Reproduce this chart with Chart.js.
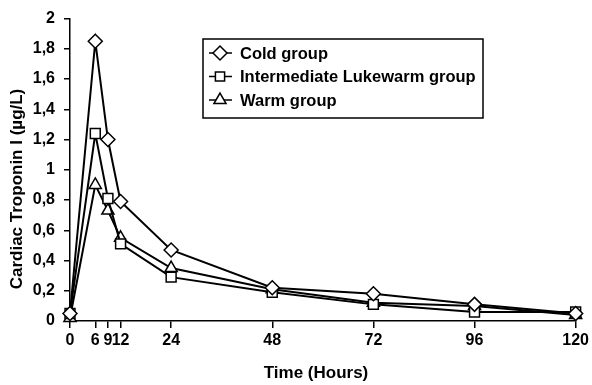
<!DOCTYPE html>
<html>
<head>
<meta charset="utf-8">
<script src="https://cdn.jsdelivr.net/npm/chart.js@4.4.1/dist/chart.umd.min.js"></script>
<style>
    body { margin: 0; background: #fff; }
    #wrap { width: 592px; height: 385px; }
</style>
</head>
<body>
<div id="wrap"><canvas id="chart"></canvas></div>
<script>
// Veriler
const hours = [0, 6, 9, 12, 24, 48, 72, 96, 120];
const xTicks = [0, 6, 9, 12, 24, 48, 72, 96, 120];
const coldGroup = [0.05, 1.85, 1.20, 0.79, 0.47, 0.22, 0.18, 0.11, 0.05];
const lukewarmGroup = [0.05, 1.24, 0.81, 0.51, 0.29, 0.19, 0.11, 0.06, 0.06];
const warmGroup = [0.02, 0.90, 0.73, 0.55, 0.35, 0.21, 0.12, 0.10, 0.04];
const seriesNames = ['Cold group', 'Intermediate Lukewarm group', 'Warm group'];
const xTitle = 'Time (Hours)';
const yTitle = 'Cardiac Troponin I (µg/L)';

const FONT = '"Liberation Sans", Arial, sans-serif';

function toPoints(values) {
    return hours.map((h, i) => ({ x: h, y: values[i] }));
}

function makeDataset(label, values, style, radius, order) {
    return {
        label: label,
        data: toPoints(values),
        borderColor: '#000',
        borderWidth: 2,
        pointStyle: style,
        pointRadius: radius,
        pointBackgroundColor: '#fff',
        pointBorderColor: '#000',
        pointBorderWidth: 1.5,
        tension: 0,
        clip: false,
        order: order
    };
}

// Eksen başlıkları
const axisTitles = {
    id: 'axisTitles',
    afterDraw(chart) {
        const ctx = chart.ctx;
        ctx.save();
        ctx.fillStyle = '#000';
        ctx.textAlign = 'center';
        ctx.textBaseline = 'middle';
        ctx.font = 'bold 17px ' + FONT;
        ctx.fillText(xTitle, 316, 373);
        ctx.translate(17, 189);
        ctx.rotate(-Math.PI / 2);
        ctx.fillText(yTitle, 0, 0);
        ctx.restore();
    }
};

// Çerçeveli lejant
const boxedLegend = {
    id: 'boxedLegend',
    afterDatasetsDraw(chart) {
        const ctx = chart.ctx;
        const x0 = 203, y0 = 39, w = 280, h = 79;
        ctx.save();
        ctx.fillStyle = '#fff';
        ctx.fillRect(x0, y0, w, h);
        ctx.strokeStyle = '#000';
        ctx.lineWidth = 1.5;
        ctx.strokeRect(x0, y0, w, h);
        ctx.font = 'bold 16.5px ' + FONT;
        ctx.textBaseline = 'middle';
        chart.data.datasets.forEach((ds, i) => {
            const cy = y0 + 14 + i * 23.5;
            ctx.strokeStyle = '#000';
            ctx.lineWidth = 1.5;
            ctx.beginPath();
            ctx.moveTo(x0 + 6, cy);
            ctx.lineTo(x0 + 29, cy);
            ctx.stroke();
            ctx.fillStyle = '#fff';
            ctx.strokeStyle = '#000';
            Chart.helpers.drawPoint(ctx, {
                pointStyle: ds.pointStyle,
                radius: ds.pointStyle === 'rect' ? 6.5 : 7,
                rotation: 0,
                borderWidth: 1.5
            }, x0 + 17, cy);
            ctx.fillStyle = '#000';
            ctx.fillText(ds.label, x0 + 37, cy + 1);
        });
        ctx.restore();
    }
};

new Chart(document.getElementById('chart'), {
    type: 'line',
    data: {
        datasets: [
            makeDataset(seriesNames[0], coldGroup, 'rectRot', 7, 1),
            makeDataset(seriesNames[1], lukewarmGroup, 'rect', 7, 2),
            makeDataset(seriesNames[2], warmGroup, 'triangle', 7, 3)
        ]
    },
    options: {
        responsive: true,
        maintainAspectRatio: false,
        animation: false,
        layout: { padding: { top: 16, right: 10 } },
        plugins: {
            legend: { display: false },
            tooltip: { enabled: false }
        },
        scales: {
            x: {
                type: 'linear',
                min: 0,
                max: 120,
                afterBuildTicks(axis) {
                    axis.ticks = xTicks.map(v => ({ value: v }));
                },
                afterFit(axis) { axis.height = 64; },
                border: { color: '#000', width: 1.5 },
                grid: { drawOnChartArea: false, drawTicks: true, tickLength: 7, color: '#000', lineWidth: 1.5 },
                ticks: {
                    color: '#000',
                    font: { family: FONT, size: 16, weight: 'bold' },
                    padding: 3,
                    maxRotation: 0,
                    autoSkip: false
                }
            },
            y: {
                min: 0,
                max: 2,
                afterFit(axis) { axis.width = 70; },
                border: { color: '#000', width: 1.5 },
                grid: { drawOnChartArea: false, drawTicks: true, tickLength: 6, color: '#000', lineWidth: 1.5 },
                ticks: {
                    stepSize: 0.2,
                    color: '#000',
                    font: { family: FONT, size: 16, weight: 'bold' },
                    padding: 9,
                    callback: v => String(Math.round(v * 10) / 10).replace('.', ',')
                }
            }
        }
    },
    plugins: [boxedLegend, axisTitles]
});
</script>
</body>
</html>
